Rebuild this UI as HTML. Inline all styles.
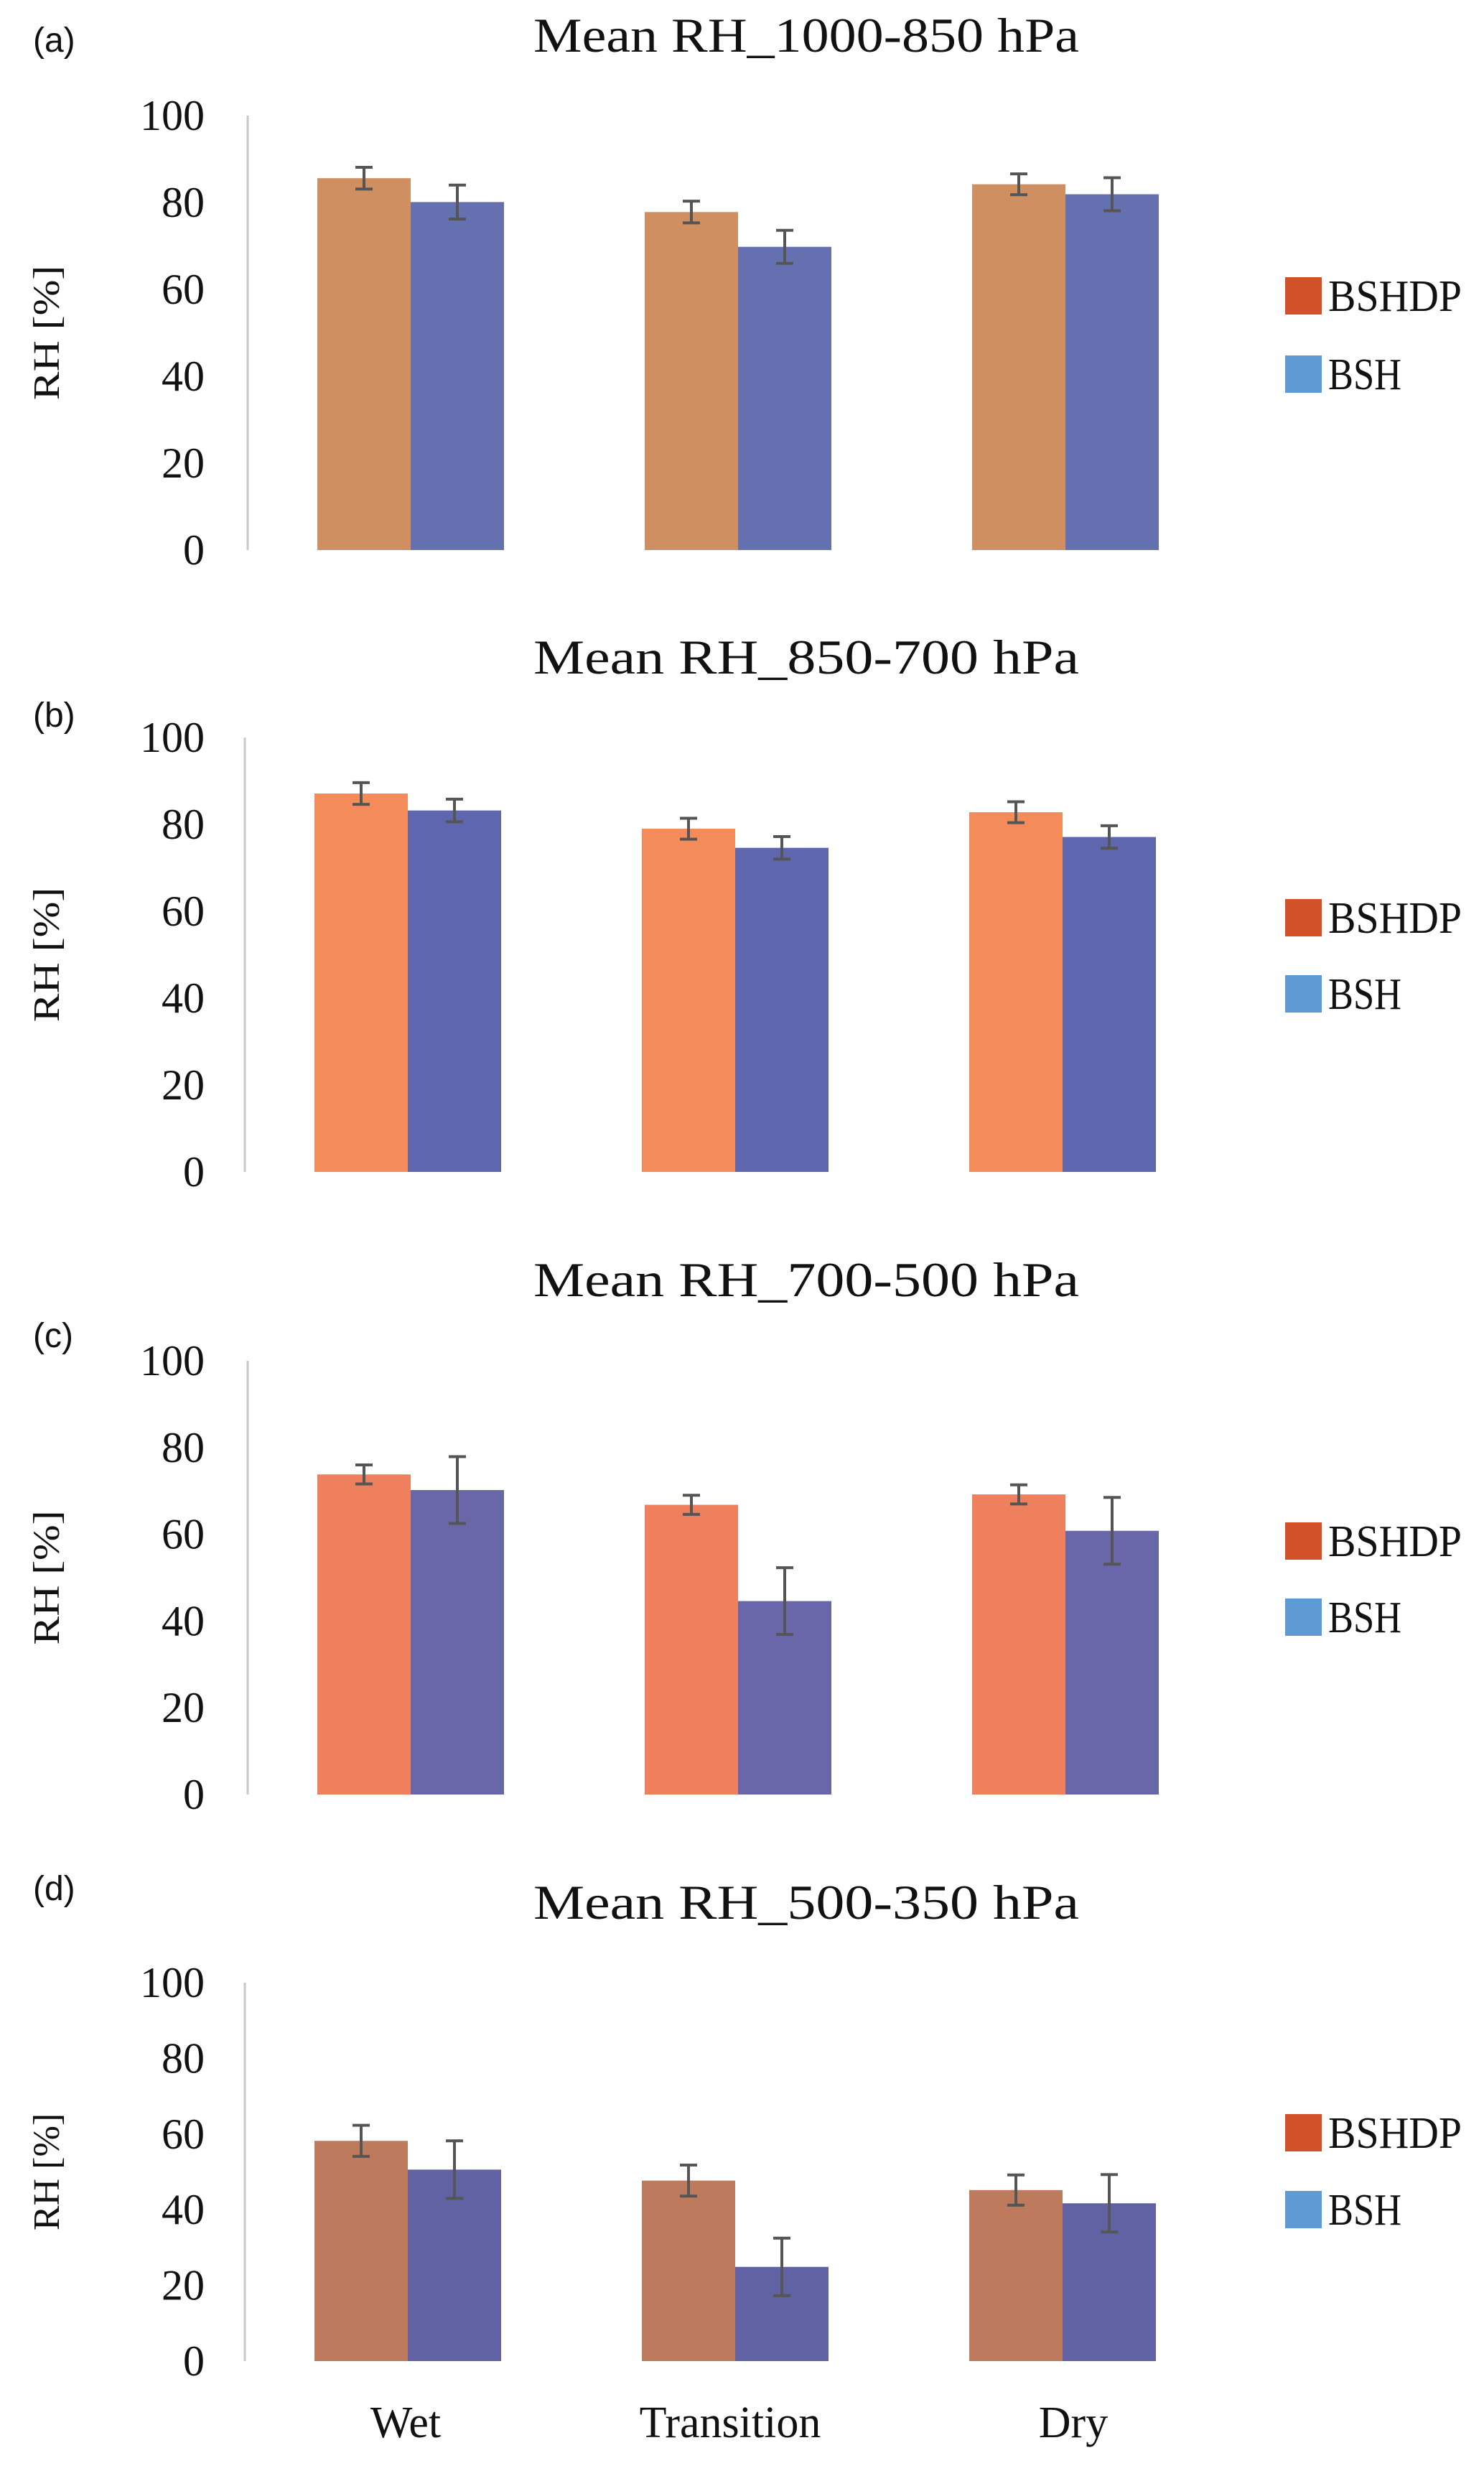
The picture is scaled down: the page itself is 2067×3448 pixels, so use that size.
<!DOCTYPE html>
<html><head><meta charset="utf-8"><style>
html,body{margin:0;padding:0;background:#fff;}
svg{display:block;}
text{font-family:"Liberation Serif",serif;fill:#111;}
</style></head><body>
<svg id="chart" width="2067" height="3448" viewBox="0 0 2067 3448" xmlns="http://www.w3.org/2000/svg"></svg>
<script>
const categories = ["Wet","Transition","Dry"];
const seriesNames = ["BSHDP","BSH"];
const titles = ["Mean RH_1000-850 hPa","Mean RH_850-700 hPa","Mean RH_700-500 hPa","Mean RH_500-350 hPa"];
const panelLabels = ["(a)","(b)","(c)","(d)"];
const yTicks = [0,20,40,60,80,100];
const bshdpA = [85.6,77.8,84.2];
const bshA = [80.1,69.8,81.9];
const bshdpErrA = [2.5,2.5,2.4];
const bshErrA = [3.9,3.8,3.8];
const bshdpB = [87.1,79.0,82.8];
const bshB = [83.2,74.6,77.1];
const bshdpErrB = [2.5,2.4,2.4];
const bshErrB = [2.6,2.6,2.6];
const bshdpC = [73.8,66.8,69.2];
const bshC = [70.2,44.6,60.8];
const bshdpErrC = [2.2,2.2,2.2];
const bshErrC = [7.7,7.7,7.7];
const bshdpD = [58.2,47.7,45.2];
const bshD = [50.6,24.9,41.7];
const bshdpErrD = [4.1,4.1,4.0];
const bshErrD = [7.6,7.6,7.6];

const NS = "http://www.w3.org/2000/svg";
const svg = document.getElementById("chart");
function mk(tag, attrs, parent){
  const e = document.createElementNS(NS, tag);
  for (const k in attrs) e.setAttribute(k, attrs[k]);
  (parent||svg).appendChild(e);
  return e;
}
const layouts = [
  {top:161,bottom:766,axisX:345,barX0:442,titleY:72,labelY:72,leg1:386,leg2:495,colors:["#CF8F60","#6470B0"]},
  {top:1027,bottom:1632,axisX:341,barX0:438,titleY:938,labelY:1012,leg1:1252,leg2:1358,colors:["#F38B5B","#5E67AD"]},
  {top:1895,bottom:2499,axisX:345,barX0:442,titleY:1805,labelY:1876,leg1:2120,leg2:2226,colors:["#EF805D","#6966AA"]},
  {top:2761,bottom:3288,axisX:341,barX0:438,titleY:2672,labelY:2646,leg1:2944,leg2:3051,colors:["#BE7A5C","#6062A3"]}
];
const data = [
  [bshdpA,bshA,bshdpErrA,bshErrA],
  [bshdpB,bshB,bshdpErrB,bshErrB],
  [bshdpC,bshC,bshdpErrC,bshErrC],
  [bshdpD,bshD,bshdpErrD,bshErrD]
];
const legendColors = ["#D35128","#5E9BD4"];
const barW = 130, groupStep = 456;

layouts.forEach((L, p) => {
  const g = mk("g", {});
  
  
  const yS = v => L.bottom - (v/100)*(L.bottom - L.top);
  const xS = (ci, si) => L.barX0 + ci*groupStep + si*barW;

  const pl = mk("text", {x:46, y:L.labelY, "font-size":48, style:"font-family:'Liberation Sans',sans-serif"}, g);
  pl.textContent = panelLabels[p];
  
  

  const t = mk("text", {x:1123, y:L.titleY, "font-size":68, "text-anchor":"middle", textLength:760, lengthAdjust:"spacingAndGlyphs"}, g);
  t.textContent = titles[p];
  
  

  const yt = mk("text", {x:0, y:0, "font-size":52, "text-anchor":"middle", transform:`translate(82,${(L.top+L.bottom)/2}) rotate(-90)`, textLength:(L.bottom-L.top)*0.31, lengthAdjust:"spacingAndGlyphs"}, g);
  yt.textContent = "RH [%]";
  
  

  const ax = mk("line", {x1:L.axisX, x2:L.axisX, y1:L.top, y2:L.bottom, stroke:"#C8C8C8", "stroke-width":3}, g);
  
  

  yTicks.forEach(v => {
    const tl = mk("text", {x:285, y:yS(v)+20, "font-size":60, "text-anchor":"end"}, g);
    tl.textContent = v;
    
    
  });

  const [s0, s1, e0, e1] = data[p];
  [s0, s1].forEach((vals, si) => {
    vals.forEach((v, ci) => {
      const x = xS(ci, si);
      const r = mk("rect", {x:x, y:yS(v), width:barW, height:L.bottom - yS(v), fill:L.colors[si]}, g);
      
      
    });
  });
  [s0, s1].forEach((vals, si) => {
    const errs = si === 0 ? e0 : e1;
    vals.forEach((v, ci) => {
      const cx = xS(ci, si) + barW/2;
      const eg = mk("g", {stroke:"#555", "stroke-width":4}, g);
      
      
      mk("line", {x1:cx, x2:cx, y1:yS(v+errs[ci]), y2:yS(v-errs[ci])}, eg);
      mk("line", {x1:cx-12, x2:cx+12, y1:yS(v+errs[ci]), y2:yS(v+errs[ci])}, eg);
      mk("line", {x1:cx-12, x2:cx+12, y1:yS(v-errs[ci]), y2:yS(v-errs[ci])}, eg);
    });
  });

  [L.leg1, L.leg2].forEach((ly, si) => {
    const lg = mk("g", {}, g);
    
    
    mk("rect", {x:1790, y:ly, width:51, height:52, fill:legendColors[si]}, lg);
    const lt = mk("text", {x:1850, y:ly+47, "font-size":62, textLength: si===0?186:102, lengthAdjust:"spacingAndGlyphs"}, lg);
    lt.textContent = seriesNames[si];
  });

  if (p === 3) {
    const xc = [565, 1017, 1495];
    categories.forEach((c, ci) => {
      const xl = mk("text", {x:xc[ci], y:3394, "font-size":62, "text-anchor":"middle"}, g);
      xl.textContent = c;
      
      
    });
  }
});
</script>
</body></html>
